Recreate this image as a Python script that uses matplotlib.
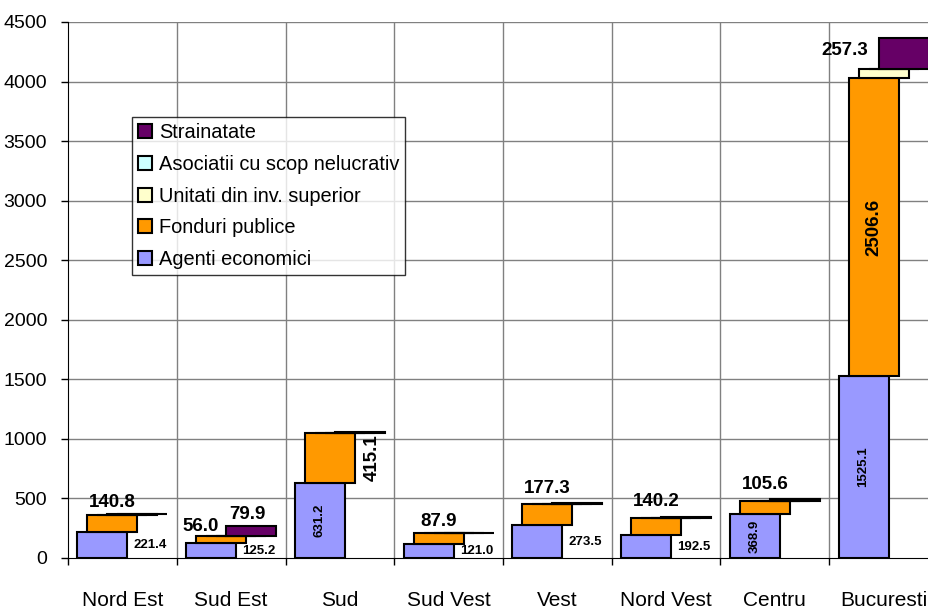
import matplotlib
matplotlib.use('Agg')
import matplotlib.pyplot as plt
import numpy as np
from matplotlib.patches import Patch

plt.rcParams['font.family'] = ['Liberation Sans', 'DejaVu Sans']

categories = ["Nord Est", "Sud Est", "Sud", "Sud Vest", "Vest", "Nord Vest", "Centru", "Bucuresti"]
agenti = [221.4, 125.2, 631.2, 121.0, 273.5, 192.5, 368.9, 1525.1]
fonduri = [140.8, 56.0, 415.1, 87.9, 177.3, 140.2, 105.6, 2506.6]
unitati = [3.0, 3.0, 4.0, 2.0, 4.0, 3.0, 3.0, 75.0]
asociatii = [0.5, 1.0, 1.0, 0.5, 1.0, 1.0, 1.0, 2.0]
strainatate = [2.0, 79.9, 3.0, 1.0, 3.0, 10.0, 15.0, 257.3]
series_names = ["Agenti economici", "Fonduri publice", "Unitati din inv. superior",
                "Asociatii cu scop nelucrativ", "Strainatate"]
yticks = [0, 500, 1000, 1500, 2000, 2500, 3000, 3500, 4000, 4500]

colors = ["#9999FF", "#FF9900", "#FFFFCC", "#CCFFFF", "#660066"]

W, H = 929, 611
fig = plt.figure(figsize=(W / 100, H / 100), dpi=100)
ax = fig.add_axes([68 / W, 53 / H, 870 / W, 536 / H])

n = len(categories)
cat_px = 870 / n
bw = 50 / cat_px
off = 10 / cat_px

data = [agenti, fonduri, unitati, asociatii, strainatate]
bottom = np.zeros(n)
centers = np.arange(n) + 0.5
xs = []
bottoms = []
for s, vals in enumerate(data):
    x = centers + (s - 2) * off
    xs.append(x)
    bottoms.append(bottom.copy())
    ax.bar(x, vals, width=bw, bottom=bottom, color=colors[s], edgecolor='black',
           linewidth=1.5, zorder=3)
    bottom = bottom + np.array(vals)

ax.set_xlim(0, n)
ax.set_ylim(0, 4500)
ax.set_yticks(yticks)
ax.set_yticklabels([str(t) for t in yticks], fontsize=14)
ax.set_xticks(np.arange(n + 1))
ax.set_xticklabels([])
ax.tick_params(axis='y', length=5, width=1, pad=10, color='black')
ax.tick_params(axis='x', length=5, width=1, color='black')

for t in yticks[1:]:
    ax.axhline(t, color='#808080', lw=1, zorder=1)
for b in range(1, n + 1):
    ax.axvline(b, color='#808080', lw=1, zorder=1)

ax.spines['right'].set_visible(False)
ax.spines['top'].set_visible(False)
ax.spines['left'].set_color('black')
ax.spines['bottom'].set_color('black')

# category labels
for i, c in enumerate(categories):
    ax.text(centers[i], -42 / 536, c, transform=ax.get_xaxis_transform(),
            ha='center', va='center', fontsize=15)

P = 72 / 100  # px -> points

# Agenti labels
for i, v in enumerate(agenti):
    yc = v / 2
    if v > 300:
        ax.text(xs[0][i], yc, f"{v:.1f}", rotation=90, ha='center', va='center',
                fontsize=9.5, fontweight='bold', zorder=5)
    else:
        ax.text(centers[i] + 28 / cat_px, yc, f"{v:.1f}", ha='center', va='center',
                fontsize=9.5, fontweight='bold', zorder=5)

# Fonduri labels
fond_dx_px = [0, -20, 0, 0, 0, 0, 0, 0]
fond_dy_px = [12, 9.5, 0, 12, 16, 17, 16.5, 0]
for i, v in enumerate(fonduri):
    top = agenti[i] + v
    if i == 2:
        ax.annotate(f"{v:.1f}", (xs[1][i], agenti[i] + v / 2), xytext=(42 * P, 0),
                    textcoords='offset points', rotation=90, ha='center', va='center',
                    fontsize=13.5, fontweight='bold', zorder=5)
    elif v > 1000:
        ax.text(xs[1][i], agenti[i] + v / 2, f"{v:.1f}", rotation=90, ha='center',
                va='center', fontsize=13.5, fontweight='bold', zorder=5)
    else:
        ax.annotate(f"{v:.1f}", (xs[1][i], top),
                    xytext=(fond_dx_px[i] * P, fond_dy_px[i] * P),
                    textcoords='offset points', ha='center', va='center',
                    fontsize=13.5, fontweight='bold', zorder=5)

# Strainatate labels
for i, v in enumerate(strainatate):
    if v < 50:
        continue
    b = bottoms[4][i]
    if v > 200:
        ax.annotate(f"{v:.1f}", (xs[4][i] - bw / 2, b + v / 2), xytext=(-10 * P, 3 * P),
                    textcoords='offset points', ha='right', va='center',
                    fontsize=13.5, fontweight='bold', zorder=5)
    else:
        ax.annotate(f"{v:.1f}", (xs[4][i] - 4 / cat_px, b + v), xytext=(0, 12 * P),
                    textcoords='offset points', ha='center', va='center',
                    fontsize=13.5, fontweight='bold', zorder=5)

handles = [Patch(facecolor=colors[s], edgecolor='black', linewidth=1.5) for s in range(5)][::-1]
labels = series_names[::-1]
leg = fig.legend(handles, labels, loc='upper left', bbox_to_anchor=(132 / W, 1 - 117 / H),
                 fontsize=14.4, frameon=True, fancybox=False, shadow=False,
                 handlelength=0.7, handleheight=0.7, handletextpad=0.35,
                 borderpad=0.3, labelspacing=0.64, borderaxespad=0)
leg.get_frame().set_edgecolor('black')
leg.get_frame().set_linewidth(1)

fig.savefig('out.png', dpi=100)
